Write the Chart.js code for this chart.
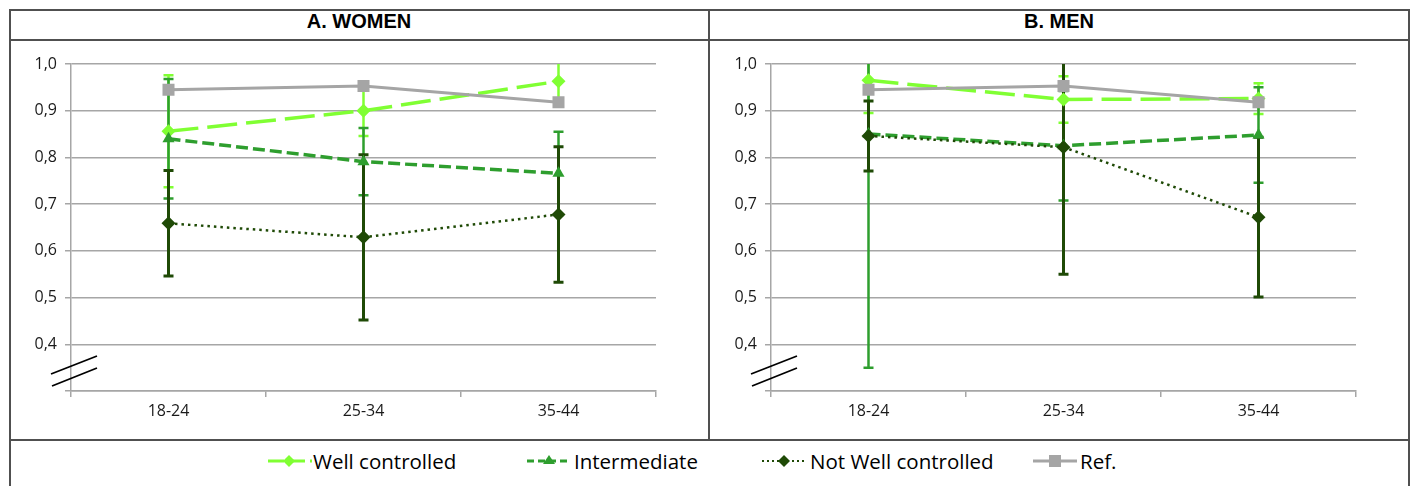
<!DOCTYPE html>
<html>
<head>
<meta charset="utf-8">
<script src="https://cdn.jsdelivr.net/npm/chart.js@4.4.0/dist/chart.umd.min.js"></script>
<style>
  body { margin: 0; width: 1413px; height: 486px; overflow: hidden; position: relative; background: #fff; font-family: "Open Sans", sans-serif; }
  .line { position: absolute; background: #505050; }
  .title { position: absolute; top: 10px; height: 29px; line-height: 29px; text-align: center; font: bold 20px "Liberation Sans", Arial, sans-serif; color: #000; }
  canvas { position: absolute; top: 41px; }
  .item { position: absolute; top: 447px; height: 28px; line-height: 28px; font-size: 20.5px; color: #000; white-space: nowrap; }
  .item svg { position: absolute; top: 4px; }
</style>
</head>
<body>
<div class="line" style="left:9px;top:9px;width:1401px;height:1.5px"></div>
<div class="line" style="left:9px;top:39px;width:1401px;height:2px"></div>
<div class="line" style="left:9px;top:439px;width:1401px;height:2px"></div>
<div class="line" style="left:9px;top:9px;width:1.5px;height:480px"></div>
<div class="line" style="left:1408px;top:9px;width:1.5px;height:480px"></div>
<div class="line" style="left:708px;top:9px;width:1.5px;height:431px"></div>

<div class="title" style="left:10px;width:698px">A. WOMEN</div>
<div class="title" style="left:710px;width:698px">B. MEN</div>

<canvas id="women" width="698" height="398" style="left:10px"></canvas>
<canvas id="men" width="698" height="398" style="left:710px"></canvas>

<div class="item" style="left:268px">
  <svg width="44" height="20" style="left:0"><line x1="0" y1="10" x2="44" y2="10" stroke="#80ff33" stroke-width="3" stroke-dasharray="16 5"/><polygon points="21,4 27,10 21,16 15,10" fill="#80ff33"/></svg>
  <span style="position:absolute;left:45px">Well controlled</span>
</div>
<div class="item" style="left:527px">
  <svg width="44" height="20" style="left:0"><line x1="0" y1="10" x2="44" y2="10" stroke="#2e9e2e" stroke-width="3" stroke-dasharray="7 4"/><polygon points="22,4 28,13 16,13" fill="#2e9e2e"/></svg>
  <span style="position:absolute;left:47px">Intermediate</span>
</div>
<div class="item" style="left:762px">
  <svg width="44" height="20" style="left:0"><line x1="0" y1="10" x2="44" y2="10" stroke="#1f4a06" stroke-width="2" stroke-dasharray="2 3"/><polygon points="22,4 28,10 22,16 16,10" fill="#1f4a06"/></svg>
  <span style="position:absolute;left:48px">Not Well controlled</span>
</div>
<div class="item" style="left:1033px">
  <svg width="44" height="20" style="left:0"><line x1="0" y1="10" x2="44" y2="10" stroke="#a5a5a5" stroke-width="3"/><rect x="16" y="4" width="12" height="12" fill="#a5a5a5"/></svg>
  <span style="position:absolute;left:47px">Ref.</span>
</div>

<script>
// categories and values
const ageGroups = ['18-24', '25-34', '35-44'];

const womenWell = [0.856, 0.900, 0.963];
const womenWellErr = [0.120, 0.054, 0.048];
const womenInter = [0.840, 0.791, 0.766];
const womenInterErr = [0.128, 0.072, 0.089];
const womenNotWell = [0.659, 0.629, 0.678];
const womenNotWellErr = [0.113, 0.177, 0.145];
const womenRef = [0.945, 0.953, 0.918];

const menWell = [0.965, 0.924, 0.926];
const menWellErr = [0.070, 0.050, 0.033];
const menInter = [0.850, 0.825, 0.848];
const menInterErr = [0.500, 0.117, 0.102];
const menNotWell = [0.846, 0.822, 0.672];
const menNotWellErr = [0.075, 0.272, 0.171];
const menRef = [0.945, 0.953, 0.918];

const yTicks = [0.3, 0.4, 0.5, 0.6, 0.7, 0.8, 0.9, 1.0];

const colWell = '#80ff33';
const colInter = '#2e9e2e';
const colNotWell = '#1f4a06';
const colRef = '#a5a5a5';

// vertical error bars with caps, under the lines and markers
const errorBars = {
    id: 'errorBars',
    beforeDatasetsDraw(chart) {
        const ctx = chart.ctx
        const area = chart.chartArea
        const x = chart.scales.x, y = chart.scales.y
        ctx.save()
        ctx.beginPath()
        ctx.rect(area.left, area.top, area.right - area.left, area.bottom - area.top)
        ctx.clip()
        chart.data.datasets.forEach(ds => {
            if (!ds.errors) return
            ctx.strokeStyle = ds.borderColor
            ctx.lineWidth = ds.errorWidth
            ds.data.forEach((v, j) => {
                const px = x.getPixelForValue(j)
                const top = y.getPixelForValue(v + ds.errors[j])
                const bot = y.getPixelForValue(v - ds.errors[j])
                ctx.beginPath()
                ctx.moveTo(px, top); ctx.lineTo(px, bot)
                ctx.moveTo(px - 5, top); ctx.lineTo(px + 5, top)
                ctx.moveTo(px - 5, bot); ctx.lineTo(px + 5, bot)
                ctx.stroke()
            })
        })
        ctx.restore()
    }
}

// axis break mark at the bottom of the y axis
const axisBreak = {
    id: 'axisBreak',
    afterDraw(chart) {
        const ctx = chart.ctx
        const l = chart.chartArea.left, b = chart.chartArea.bottom
        ctx.save()
        ctx.strokeStyle = '#000'
        ctx.lineWidth = 1.8
        ctx.beginPath()
        ctx.moveTo(l - 20, b - 17); ctx.lineTo(l + 26, b - 35)
        ctx.moveTo(l - 19, b - 5); ctx.lineTo(l + 26, b - 23)
        ctx.stroke()
        ctx.restore()
    }
}

function makeChart(id, well, wellErr, inter, interErr, notWell, notWellErr, ref) {
    return new Chart(document.getElementById(id), {
        type: 'line',
        data: {
            labels: ageGroups,
            datasets: [{
                label: 'Well controlled',
                data: well, errors: wellErr, errorWidth: 2.5,
                borderColor: colWell, backgroundColor: colWell,
                borderWidth: 3.5, borderDash: [30, 9],
                pointStyle: 'rectRot', pointRadius: 7, pointBorderWidth: 0,
                order: 4
            }, {
                label: 'Intermediate',
                data: inter, errors: interErr, errorWidth: 2.5,
                borderColor: colInter, backgroundColor: colInter,
                borderWidth: 3.5, borderDash: [12, 5],
                pointStyle: 'triangle', pointRadius: 7, pointBorderWidth: 0,
                order: 3
            }, {
                label: 'Not Well controlled',
                data: notWell, errors: notWellErr, errorWidth: 3,
                borderColor: colNotWell, backgroundColor: colNotWell,
                borderWidth: 2.5, borderDash: [2.5, 4],
                pointStyle: 'rectRot', pointRadius: 7, pointBorderWidth: 0,
                order: 2
            }, {
                label: 'Ref.',
                data: ref,
                borderColor: colRef, backgroundColor: colRef,
                borderWidth: 3,
                pointStyle: 'rect', pointRadius: 8.5, pointBorderWidth: 0,
                order: 1
            }]
        },
        options: {
            responsive: false,
            animation: false,
            layout: { padding: { left: 0, right: 52, top: 23, bottom: 0 } },
            plugins: {
                legend: { display: false },
                tooltip: { enabled: false }
            },
            scales: {
                x: {
                    offset: true,
                    grid: { offset: true, drawOnChartArea: false, drawTicks: true, tickLength: 6, color: '#a6a6a6', lineWidth: 1.5 },
                    border: { color: '#a6a6a6', width: 1.5 },
                    ticks: { color: '#1a1a1a', font: { family: 'Open Sans', size: 16 }, padding: 5 },
                    afterFit(scale) { scale.height = 48 }
                },
                y: {
                    min: 0.3, max: 1.0,
                    afterBuildTicks(scale) { scale.ticks = yTicks.map(v => ({ value: v })) },
                    grid: { color: '#a6a6a6', lineWidth: 1.5, tickLength: 6 },
                    border: { color: '#a6a6a6', width: 1.5 },
                    ticks: {
                        color: '#1a1a1a', font: { family: 'Open Sans', size: 16 }, padding: 8,
                        callback: v => v < 0.35 ? '' : v.toFixed(1).replace('.', ',')
                    },
                    afterFit(scale) { scale.width = 61 }
                }
            }
        },
        plugins: [errorBars, axisBreak]
    })
}

makeChart('women', womenWell, womenWellErr, womenInter, womenInterErr, womenNotWell, womenNotWellErr, womenRef)
makeChart('men', menWell, menWellErr, menInter, menInterErr, menNotWell, menNotWellErr, menRef)
</script>
</body>
</html>
